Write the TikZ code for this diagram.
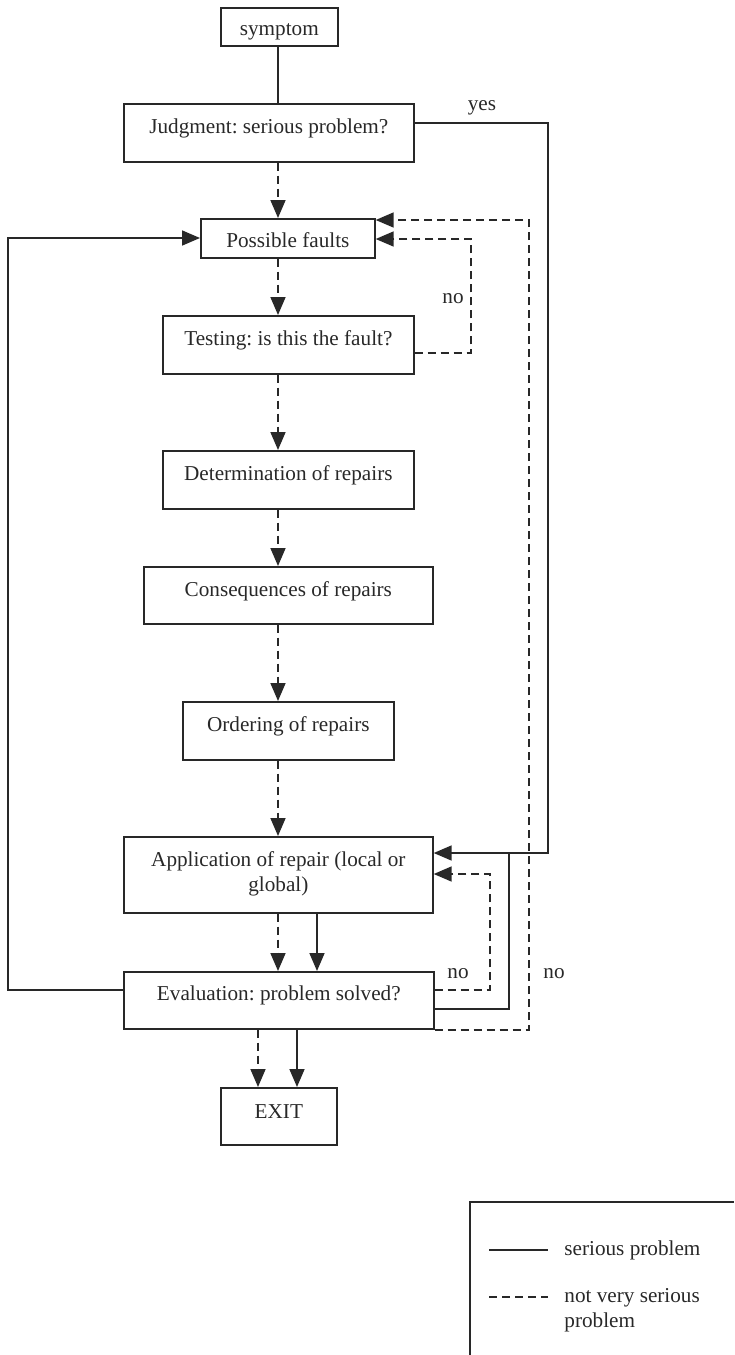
\documentclass[tikz,border=0pt]{standalone}
\usepackage{fontspec}
\setmainfont{Liberation Serif}
\usetikzlibrary{arrows.meta}
\definecolor{ink}{RGB}{40,40,40}
\frenchspacing
\begin{document}
\begin{tikzpicture}[x=0.5pt,y=-0.5pt,
  font=\fontsize{10.6}{12.5}\selectfont\frenchspacing,
  every node/.style={text=ink},
  box/.style={draw=ink, line width=0.85pt, rectangle, anchor=north west,
    inner xsep=0pt, inner ysep=0pt, text height=15pt},
  solidline/.style={draw=ink, line width=0.85pt},
  dashline/.style={draw=ink, line width=0.85pt, dash pattern=on 4pt off 2.5pt},
  tip/.style={-{Triangle[length=9pt,width=7.5pt]}},
  lbl/.style={anchor=base, inner sep=0pt}]

\useasboundingbox (0,0) rectangle (734,1355);

% process boxes
\node[box, minimum width=58.5pt, text height=14pt, text depth=5pt] (sym) at (220,7) {symptom};
\node[box, minimum width=145pt, text depth=14pt] (judg) at (123,103) {Judgment: serious problem?};
\node[box, minimum width=87pt, text height=14.5pt, text depth=5pt] (poss) at (200,218) {Possible faults};
\node[box, minimum width=125.5pt, text depth=14pt] (test) at (162,315) {Testing: is this the fault?};
\node[box, minimum width=125.5pt, text depth=14pt] (det) at (162,450) {Determination of repairs};
\node[box, minimum width=144.5pt, text depth=13.5pt] (cons) at (143,566) {Consequences of repairs};
\node[box, minimum width=105.5pt, text depth=14pt] (ord) at (182,701) {Ordering of repairs};
\node[box, minimum width=154.5pt, text depth=23pt] (app) at (123,836)
  {\begin{tabular}[t]{@{}c@{}}Application of repair (local or\\global)\end{tabular}};
\node[box, minimum width=155pt, text height=14.5pt, text depth=14pt] (eval) at (123,971) {Evaluation: problem solved?};
\node[box, minimum width=58pt, text height=15.5pt, text depth=13pt] (exit) at (220,1087) {EXIT};

% vertical guide lines and horizontal levels of the connectors
\coordinate (ax) at (278,0);
\coordinate (axB) at (317,0);
\coordinate (axC) at (258,0);
\coordinate (axD) at (297,0);
\coordinate (rNoA) at (471,0);
\coordinate (rNoB) at (490,0);
\coordinate (rSol) at (509,0);
\coordinate (rNoC) at (529,0);
\coordinate (rYes) at (548,0);
\coordinate (lLoop) at (8,0);
\coordinate (hYes) at (0,123);
\coordinate (hPossA) at (0,220);
\coordinate (hPossL) at (0,238);
\coordinate (hPossB) at (0,239);
\coordinate (hTest) at (0,353);
\coordinate (hAppA) at (0,853);
\coordinate (hAppB) at (0,874);
\coordinate (hEvalA) at (0,990);
\coordinate (hEvalB) at (0,1009);

% main chain
\draw[solidline] (sym.south -| ax) -- (judg.north -| ax);
\draw[dashline, tip] (judg.south -| ax) -- (poss.north -| ax);
\draw[dashline, tip] (poss.south -| ax) -- (test.north -| ax);
\draw[dashline, tip] (test.south -| ax) -- (det.north -| ax);
\draw[dashline, tip] (det.south -| ax) -- (cons.north -| ax);
\draw[dashline, tip] (cons.south -| ax) -- (ord.north -| ax);
\draw[dashline, tip] (ord.south -| ax) -- (app.north -| ax);
\draw[dashline, tip] (app.south -| ax) -- (eval.north -| ax);
\draw[solidline, tip] (app.south -| axB) -- (eval.north -| axB);
\draw[dashline, tip] (eval.south -| axC) -- (exit.north -| axC);
\draw[solidline, tip] (eval.south -| axD) -- (exit.north -| axD);

% serious problem: straight to the repair
\draw[solidline, tip] (judg.east |- hYes) -- (rYes |- hYes) -- (rYes |- hAppA) -- (app.east |- hAppA);
\node[lbl] (yes) at (482,110) {yes};

% testing loop
\draw[dashline, tip] (test.east |- hTest) -- (rNoA |- hTest) -- (rNoA |- hPossB) -- (poss.east |- hPossB);
\node[lbl] (noA) at (453,303) {no};

% evaluation loops
\draw[dashline, tip] (eval.east |- hEvalA) -- (rNoB |- hEvalA) -- (rNoB |- hAppB) -- (app.east |- hAppB);
\node[lbl] (noB) at (458,978) {no};
\draw[solidline] (eval.east |- hEvalB) -- (rSol |- hEvalB) -- (rSol |- hAppA);
\draw[dashline, tip] (eval.south east) -- (rNoC |- eval.south east) -- (rNoC |- hPossA) -- (poss.east |- hPossA);
\node[lbl] (noC) at (554,978) {no};
\draw[solidline, tip] (eval.west |- hEvalA) -- (lLoop |- hEvalA) -- (lLoop |- hPossL) -- (poss.west |- hPossL);

% legend
\coordinate (legTL) at (470,1202);
\draw[solidline] (legTL |- 0,1355) -- (legTL) -- (734,1202);
\coordinate (legA) at (489,1250);
\coordinate (legB) at (548,1250);
\coordinate (legC) at (489,1297);
\coordinate (legD) at (548,1297);
\draw[solidline] (legA) -- (legB);
\draw[dashline] (legC) -- (legD);
\node[anchor=base west, inner sep=0pt] (legS) at (564,1255) {serious problem};
\node[anchor=base west, inner sep=0pt] (legN) at (564,1302)
  {\begin{tabular}[t]{@{}l@{}}not very serious\\problem\end{tabular}};
\end{tikzpicture}
\end{document}
